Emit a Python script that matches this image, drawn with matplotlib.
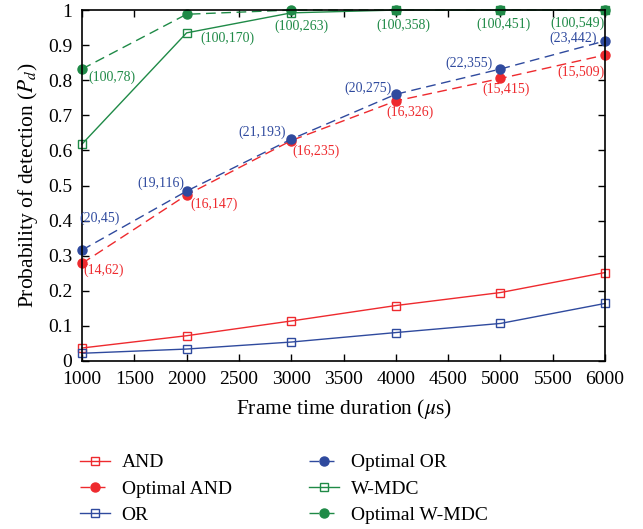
import numpy as np
import matplotlib
matplotlib.use('Agg')
import matplotlib.pyplot as plt

plt.rcParams['font.family'] = ['Liberation Serif', 'DejaVu Serif']
plt.rcParams['mathtext.fontset'] = 'stix'

# data
frame_time = [1000, 2000, 3000, 4000, 5000, 6000]
and_pd = [0.037, 0.072, 0.114, 0.158, 0.195, 0.252]
or_pd = [0.022, 0.034, 0.054, 0.081, 0.107, 0.164]
opt_and_pd = [0.278, 0.473, 0.628, 0.741, 0.805, 0.872]
opt_or_pd = [0.316, 0.484, 0.632, 0.760, 0.832, 0.912]
wmdc_pd = [0.618, 0.935, 0.992, 1.0, 1.0, 1.0]
opt_wmdc_pd = [0.832, 0.988, 1.0, 1.0, 1.0, 1.0]

opt_and_labels = ['(14,62)', '(16,147)', '(16,235)', '(16,326)', '(15,415)', '(15,509)']
opt_or_labels = ['(20,45)', '(19,116)', '(21,193)', '(20,275)', '(22,355)', '(23,442)']
wmdc_labels = ['(100,78)', '(100,170)', '(100,263)', '(100,358)', '(100,451)', '(100,549)']

red = '#ee2a2e'
blue = '#2f4a9e'
green = '#1f8a47'

fig = plt.figure(figsize=(6.43, 5.29), dpi=100)
ax = fig.add_axes([0.1275, 0.3176, 0.8135, 0.6634])

sq = dict(marker='s', ms=5.5, mfc='none', mew=1.0, lw=1.0, clip_on=False)
dot = dict(marker='o', ms=6.5, lw=1.0, dashes=(7, 4), clip_on=False)
ax.plot(frame_time, and_pd, '-', color=red, label='AND', **sq)
ax.plot(frame_time, opt_and_pd, '--', color=red, label='Optimal AND', **dot)
ax.plot(frame_time, or_pd, '-', color=blue, label='OR', **sq)
ax.plot(frame_time, opt_or_pd, '--', color=blue, label='Optimal OR', **dot)
ax.plot(frame_time, wmdc_pd, '-', color=green, label='W-MDC', **sq)
ax.plot(frame_time, opt_wmdc_pd, '--', color=green, label='Optimal W-MDC', **dot)

# annotation offsets in pixels (dx, dy, ha)
wmdc_off = [(6, -8, 'left'), (14, -5, 'left'), (10, -16, 'center'), (8, -15, 'center'), (3, -14, 'center'), (-28, -13, 'center')]
or_off = [(18, 32, 'center'), (-26, 8, 'center'), (-29, 7, 'center'), (-28, 6, 'center'), (-31, 6, 'center'), (-32, 3, 'center')]
and_off = [(22, -7, 'center'), (27, -9, 'center'), (25, -11, 'center'), (14, -11, 'center'), (6, -11, 'center'), (-24, -17, 'center')]

fs_ann = 10
for i, (x, t, o) in enumerate(zip(frame_time, wmdc_labels, wmdc_off)):
    yy = wmdc_pd[i] if i == 1 else opt_wmdc_pd[i]
    ax.annotate(t, (x, yy), xytext=(o[0], o[1]), textcoords='offset pixels', ha=o[2], va='center',
                color=green, fontsize=fs_ann)
for x, y, t, o in zip(frame_time, opt_or_pd, opt_or_labels, or_off):
    ax.annotate(t, (x, y), xytext=(o[0], o[1]), textcoords='offset pixels', ha=o[2], va='center',
                color=blue, fontsize=fs_ann)
for x, y, t, o in zip(frame_time, opt_and_pd, opt_and_labels, and_off):
    ax.annotate(t, (x, y), xytext=(o[0], o[1]), textcoords='offset pixels', ha=o[2], va='center',
                color=red, fontsize=fs_ann)

ax.set_xlim(1000, 6000)
ax.set_ylim(0, 1)
ax.set_xticks(np.arange(1000, 6001, 500))
ax.set_yticks(np.arange(0, 1.01, 0.1))
ax.set_yticklabels(['0', '0.1', '0.2', '0.3', '0.4', '0.5', '0.6', '0.7', '0.8', '0.9', '1'])
ax.tick_params(direction='in', top=True, right=True, labelsize=14, length=5, width=1.0)
ax.tick_params(axis='x', pad=7)
ax.tick_params(axis='y', pad=7)
for s in ax.spines.values():
    s.set_linewidth(1.2)

ax.set_xlabel(r'Frame time duration ($\mu$s)', fontsize=15.5, labelpad=7)
ax.set_ylabel(r'Probability of detection ($P_d$)', fontsize=15.5, labelpad=6)

h, l = ax.get_legend_handles_labels()
fig.legend(h, l, ncol=2, loc='upper left', bbox_to_anchor=(0.124, 0.142), frameon=False,
           fontsize=14, handlelength=1.55, borderpad=0, borderaxespad=0,
           columnspacing=4.0, labelspacing=0.45, handletextpad=0.6)

fig.savefig('out.png', dpi=100)
